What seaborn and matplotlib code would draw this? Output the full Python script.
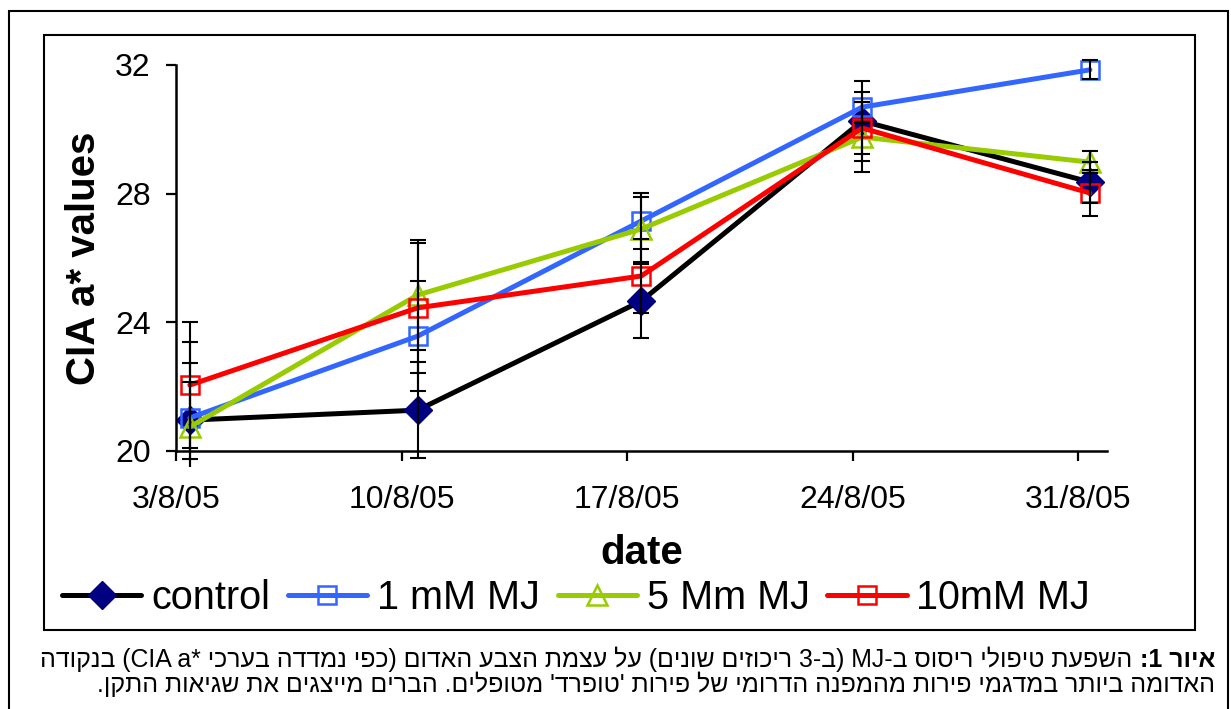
import numpy as np
import pandas as pd
import matplotlib
matplotlib.use("Agg")
import matplotlib.pyplot as plt
from matplotlib.patches import Rectangle
from matplotlib.transforms import Bbox, TransformedBbox
import seaborn as sns

# ---- data ----
date_labels = ["3/8/05", "10/8/05", "17/8/05", "24/8/05", "31/8/05"]
tick_day = [3, 10, 17, 24, 31]
sample_day = [3.43, 10.5, 17.44, 24.3, 31.37]

control = [20.96, 21.27, 24.66, 30.26, 28.36]
control_err = [1.2, 1.5, 1.14, 1.23, 0.64]
mj_1 = [21.03, 23.57, 27.15, 30.69, 31.85]
mj_1_err = [2.36, 1.71, 0.88, 0.48, 0.3]
mj_5 = [20.75, 24.85, 26.9, 29.76, 28.98]
mj_5_err = [2.0, 1.71, 1.01, 1.08, 0.35]
mj_10 = [22.05, 24.45, 25.44, 30.04, 28.02]
mj_10_err = [1.95, 2.02, 1.15, 0.8, 0.71]

series_names = ["control", "1 mM MJ", "5 Mm MJ", "10mM MJ"]
yticks = [20, 24, 28, 32]

caption_bold = "איור 1:"
caption_line1 = " השפעת טיפולי ריסוס ב-MJ (ב-3 ריכוזים שונים) על עצמת הצבע האדום (כפי נמדדה בערכי *CIA a) בנקודה"
caption_line2 = "האדומה ביותר במדגמי פירות מהמפנה הדרומי של פירות 'טופרד' מטופלים. הברים מייצגים את שגיאות התקן."


def visual_rtl(s):
    """Very small bidi reorder for a right-to-left line (matplotlib draws LTR only)."""
    def kind(c):
        if "\u0590" <= c <= "\u05ff":
            return "R"
        if c.isdigit():
            return "EN"
        if c.isalpha():
            return "L"
        return "N"
    kinds = [kind(c) for c in s]
    strong = ["R" if k == "EN" else k for k in kinds]
    lev = []
    for i, k in enumerate(kinds):
        if k == "N":
            prev = next((strong[j] for j in range(i - 1, -1, -1) if strong[j] != "N"), "R")
            nxt = next((strong[j] for j in range(i + 1, len(s)) if strong[j] != "N"), "R")
            k = prev if prev == nxt else "R"
        lev.append(1 if k == "R" else 2)
    mirror = {"(": ")", ")": "("}
    chars = [mirror.get(c, c) if lv == 1 else c for c, lv in zip(s, lev)]
    res, i = [], 0
    while i < len(chars):
        if lev[i] == 2:
            j = i
            while j < len(chars) and lev[j] == 2:
                j += 1
            res.extend(reversed(chars[i:j]))
            i = j
        else:
            res.append(chars[i])
            i += 1
    return "".join(reversed(res))


values = [control, mj_1, mj_5, mj_10]
errors = [control_err, mj_1_err, mj_5_err, mj_10_err]
df = pd.DataFrame({
    "day": sample_day * 4,
    "value": sum(values, []),
    "err": sum(errors, []),
    "series": [n for n in series_names for _ in sample_day],
})

styles = {
    "control": dict(color="black", marker="D", ms=14, mfc="#000080", mec="#000080", mew=1),
    "1 mM MJ": dict(color="#3366FF", marker="s", ms=13, mfc="none", mec="#3366FF", mew=1.8),
    "5 Mm MJ": dict(color="#99CC00", marker="^", ms=15, mfc="none", mec="#99CC00", mew=1.8),
    "10mM MJ": dict(color="#FF0000", marker="s", ms=13, mfc="none", mec="#FF0000", mew=1.8),
}
line_w = 3.6

sns.set_style("ticks")
plt.rcParams["font.family"] = ["Liberation Sans", "DejaVu Sans"]
plt.rcParams.update({"text.color": "black", "axes.labelcolor": "black",
                     "xtick.color": "black", "ytick.color": "black"})

W, H = 1231, 709
fig = plt.figure(figsize=(W / 100, H / 100), dpi=100)
ax = fig.add_axes([176 / W, (H - 451) / H, (1107 - 176) / W, (451 - 65) / H])

# error bars may hang a little below the x axis, as in the original
err_clip = TransformedBbox(Bbox([[0, -16 / 386], [1, 1.1]]), ax.transAxes)

for name in series_names:
    sub = df[df["series"] == name]
    st = styles[name]
    sns.lineplot(data=sub, x="day", y="value", ax=ax, linewidth=line_w, label=name,
                 color=st["color"], marker=st["marker"], markersize=st["ms"],
                 mfc=st["mfc"], mec=st["mec"], mew=st["mew"], zorder=2, clip_on=False)
    eb = ax.errorbar(sub["day"], sub["value"], yerr=sub["err"], fmt="none", ecolor="black",
                     elinewidth=1.5, capsize=6, capthick=1.5, zorder=3)
    for art in list(eb.lines[1]) + list(eb.lines[2]):
        art.set_clip_box(err_clip)

for ln in ax.lines:
    if ln.get_label() in series_names:
        ln.set_linewidth(line_w)

ax.set_xlim(3, 31.9)
ax.set_ylim(20, 32)
ax.set_xticks(tick_day)
ax.set_xticklabels(date_labels)
ax.set_yticks(yticks)
ax.tick_params(axis="both", labelsize=23, length=7.2, width=1.6, color="black",
               labelcolor="black")
ax.tick_params(axis="y", pad=11)
ax.tick_params(axis="x", pad=17)
for sp in ["top", "right"]:
    ax.spines[sp].set_visible(False)
for sp in ["left", "bottom"]:
    ax.spines[sp].set_linewidth(1.8)
    ax.spines[sp].set_color("black")

ax.set_xlabel("date", fontsize=29, fontweight="bold")
ax.set_ylabel("CIA a* values", fontsize=29, fontweight="bold")
ax.xaxis.set_label_coords(0.5, -0.215)
ax.yaxis.set_label_coords(-0.078, 0.5)

handles, labels = ax.get_legend_handles_labels()
if ax.get_legend() is not None:
    ax.get_legend().remove()
leg = fig.legend(handles, labels, loc="center left", bbox_to_anchor=(62 / W, 1 - 598 / H),
                 ncol=4, frameon=False, fontsize=28.5, handlelength=2.0, handletextpad=0.25,
                 columnspacing=0.45, borderaxespad=0, borderpad=0)
for h in leg.legend_handles:
    h.set_linewidth(line_w)

# chart frames
fig.add_artist(Rectangle((9 / W, -0.01), (1228 - 9) / W, (H - 11) / H + 0.01,
                         transform=fig.transFigure, fill=False, lw=1.5, ec="black"))
fig.add_artist(Rectangle((44 / W, (H - 630) / H), (1195 - 44) / W, (630 - 35) / H,
                         transform=fig.transFigure, fill=False, lw=1.5, ec="black"))

# caption (right-to-left)
right_px = 1215
cap_size = 14
t_bold = fig.text(right_px / W, (H - 667) / H, visual_rtl(caption_bold), ha="right",
                  va="baseline", fontsize=cap_size, fontweight="bold")
t_rest = fig.text(0, (H - 667) / H, visual_rtl(caption_line1), ha="right",
                  va="baseline", fontsize=cap_size)
t_l2 = fig.text(right_px / W, (H - 692) / H, visual_rtl(caption_line2), ha="right",
                va="baseline", fontsize=cap_size)
renderer = fig.canvas.get_renderer()
total = t_bold.get_window_extent(renderer).width + t_rest.get_window_extent(renderer).width
cap_size = cap_size * (right_px - 37) / total
for t in (t_bold, t_rest, t_l2):
    t.set_fontsize(cap_size)
wb = t_bold.get_window_extent(renderer).width
t_rest.set_x((right_px - wb) / W)

fig.savefig("out.png", dpi=100, facecolor="white")
